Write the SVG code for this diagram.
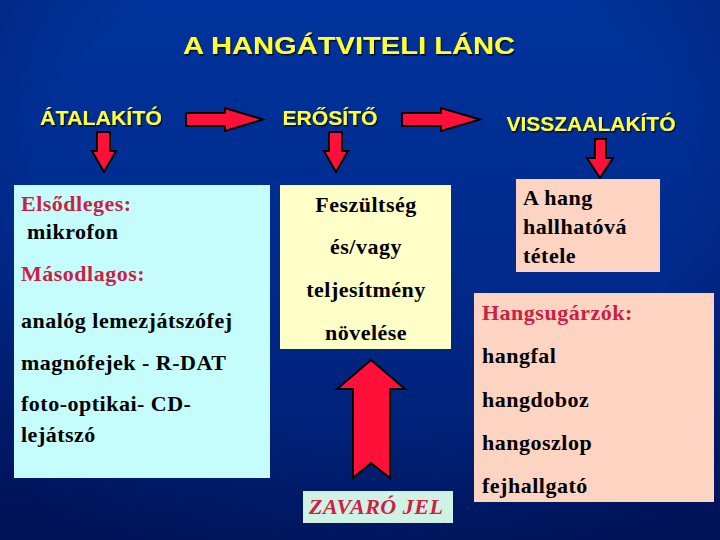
<svg xmlns="http://www.w3.org/2000/svg" width="720" height="540" viewBox="0 0 720 540">
<defs>
<linearGradient id="bg" x1="0" y1="0" x2="0" y2="1">
<stop offset="0" stop-color="#00339c"/>
<stop offset="0.5" stop-color="#002a8c"/>
<stop offset="1" stop-color="#001c6c"/>
</linearGradient>
<radialGradient id="vig" cx="0.5" cy="0.35" r="0.75">
<stop offset="0.6" stop-color="#000033" stop-opacity="0"/>
<stop offset="1" stop-color="#000033" stop-opacity="0.35"/>
</radialGradient>
<filter id="sh" x="-10%" y="-30%" width="120%" height="160%">
<feDropShadow dx="1.2" dy="1.5" stdDeviation="0.4" flood-color="#000022" flood-opacity="0.9"/>
</filter>
<style>
.title{font-family:"Liberation Sans",Arial,sans-serif;font-weight:bold;font-size:24px;fill:#ffff33}
.head{font-family:"Liberation Sans",Arial,sans-serif;font-weight:bold;font-size:20px;fill:#ffff33}
.t{font-family:"Liberation Serif","Times New Roman",serif;font-weight:bold;font-size:22px;letter-spacing:0.5px;fill:#000}
.red{fill:#cc1f44}
.arr{fill:#ff1038;stroke:#000;stroke-width:2;stroke-linejoin:miter}
</style>
</defs>
<rect width="720" height="540" fill="url(#bg)"/>
<rect width="720" height="540" fill="url(#vig)"/>

<g id="title" filter="url(#sh)">
<text class="title" x="349" y="54" text-anchor="middle" textLength="332" lengthAdjust="spacingAndGlyphs">A HANGÁTVITELI LÁNC</text>
</g>

<g id="atalakito" filter="url(#sh)">
<text class="head" x="101" y="125" text-anchor="middle" textLength="122" lengthAdjust="spacingAndGlyphs">ÁTALAKÍTÓ</text>
</g>
<g id="erosito" filter="url(#sh)">
<text class="head" x="330" y="125" text-anchor="middle" textLength="95" lengthAdjust="spacingAndGlyphs">ERŐSÍTŐ</text>
</g>
<g id="visszaalakito" filter="url(#sh)">
<text class="head" x="591" y="131" text-anchor="middle" textLength="169" lengthAdjust="spacingAndGlyphs">VISSZAALAKÍTÓ</text>
</g>

<g id="connectors">
<polygon class="arr" points="186,113 225,113 225,108 263,119.5 225,131 225,126 186,126"/>
<polygon class="arr" points="402,113 441,113 441,108 480,119.5 441,131 441,126 402,126"/>
<polygon class="arr" points="97,132 110,132 110,151 116,151 104,172 92,151 97,151"/>
<polygon class="arr" points="329,132 342,132 342,151 348,151 336,172 324,151 329,151"/>
<polygon class="arr" points="595,139 606,139 606,158 613,158 600,178 587,158 595,158"/>
<polygon class="arr" points="353,478 353,389 337,389 371,360 405,389 390,389 390,478 371,463"/>
</g>

<g id="source-box">
<rect x="14" y="185" width="256" height="293" fill="#c4fdfc"/>
<text class="t red" x="21" y="211">Elsődleges:</text>
<text class="t" x="27" y="239">mikrofon</text>
<text class="t red" x="21" y="281">Másodlagos:</text>
<text class="t" x="21" y="328">analóg lemezjátszófej</text>
<text class="t" x="21" y="370">magnófejek - R-DAT</text>
<text class="t" x="21" y="411">foto-optikai- CD-</text>
<text class="t" x="21" y="442">lejátszó</text>
</g>

<g id="amplifier-box">
<rect x="280" y="185" width="171" height="164" fill="#ffffc8"/>
<text class="t" x="366" y="212" text-anchor="middle">Feszültség</text>
<text class="t" x="366" y="254" text-anchor="middle">és/vagy</text>
<text class="t" x="366" y="297" text-anchor="middle">teljesítmény</text>
<text class="t" x="366" y="340" text-anchor="middle">növelése</text>
</g>

<g id="noise-box">
<rect x="303" y="491" width="150" height="32" fill="#d0f2e4"/>
<text class="t red" x="309" y="514" font-style="italic" font-size="20">ZAVARÓ JEL</text>
</g>

<g id="output-box">
<rect x="516" y="179" width="144" height="93" fill="#fdd3c2"/>
<text class="t" x="523" y="205">A hang</text>
<text class="t" x="523" y="234">hallhatóvá</text>
<text class="t" x="523" y="263">tétele</text>
</g>

<g id="speakers-box">
<rect x="474" y="293" width="240" height="209" fill="#fdd3c2"/>
<text class="t red" x="482" y="320">Hangsugárzók:</text>
<text class="t" x="482" y="363">hangfal</text>
<text class="t" x="482" y="407">hangdoboz</text>
<text class="t" x="482" y="450">hangoszlop</text>
<text class="t" x="482" y="493">fejhallgató</text>
</g>
</svg>
